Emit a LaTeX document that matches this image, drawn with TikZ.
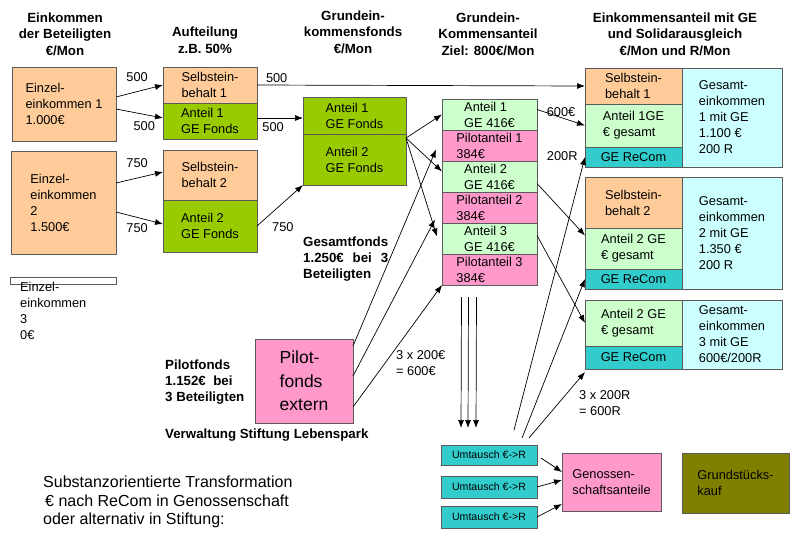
\documentclass[tikz,border=0pt]{standalone}
\usepackage{fontspec}
\setmainfont{Liberation Sans}
\usetikzlibrary{arrows.meta, positioning, calc}
\definecolor{peach}{HTML}{FFCC99}
\definecolor{fondsgreen}{HTML}{99CC00}
\definecolor{palegreen}{HTML}{CCFFCC}
\definecolor{pilotpink}{HTML}{FF99CC}
\definecolor{recomteal}{HTML}{33CCCC}
\definecolor{palecyan}{HTML}{CCFFFF}
\definecolor{landolive}{HTML}{808000}
\definecolor{boxedge}{HTML}{5A5A5A}

\tikzset{
    cell/.style={draw=boxedge, line width=0.7pt, outer sep=0pt, inner xsep=3pt, inner ysep=1pt, align=left, anchor=north west, font=\fontsize{12.8}{16}\selectfont},
    head/.style={align=center, font=\bfseries\fontsize{13.3}{16.5}\selectfont},
    note/.style={align=left, anchor=north west, inner sep=0pt, font=\bfseries\fontsize{13.3}{16}\selectfont},
    lbl/.style={inner sep=1pt, align=left, font=\fontsize{12.8}{16}\selectfont},
    arr/.style={-{Latex[length=8pt,width=6pt]}, line width=0.7pt},
}

\begin{document}
\begin{tikzpicture}[x=1pt, y=-1pt]
    \useasboundingbox (0,0) rectangle (794,533);

    \node[head] (h1) at (65,34) {Einkommen\\der Beteiligten\\€/Mon};
    \node[head] (h2) at (205,40) {Aufteilung\\z.B. 50\%};
    \node[head] (h3) at (353,32) {Grundein-\\kommensfonds\\€/Mon};
    \node[head] (h4) at (488,34) {Grundein-\\Kommensanteil\\Ziel: 800€/Mon};
    \node[head] (h5) at (675,34) {Einkommensanteil mit GE\\und Solidarausgleich\\€/Mon und R/Mon};

    \node[cell, fill=peach, minimum width=104pt, minimum height=74pt] (e1) at (12,67) {Einzel-\\einkommen 1\\1.000€};
    \node[cell, fill=peach, minimum width=105pt, minimum height=103pt] (e2) at (11,151) {Einzel-\\einkommen\\2\\1.500€};
    \node[cell, fill=white, minimum width=106pt, minimum height=7pt, inner sep=0pt] (e3) at (10,277) {};
    \node[lbl, anchor=north west, inner sep=0pt] (e3lab) at (20,282) {Einzel-\\einkommen\\3\\0€};

    \node[cell, fill=peach, minimum width=94pt, minimum height=36pt] (sb1) at (163,67) {Selbstein-\\behalt 1};
    \node[cell, fill=fondsgreen, minimum width=94pt, minimum height=36pt, below=0pt of sb1] (gf1) {Anteil 1\\GE Fonds};
    \node[cell, fill=peach, minimum width=94pt, minimum height=50pt] (sb2) at (163,150) {Selbstein-\\behalt 2};
    \node[cell, fill=fondsgreen, minimum width=94pt, minimum height=52pt, below=0pt of sb2] (gf2) {Anteil 2\\GE Fonds};

    \node[cell, fill=fondsgreen, minimum width=103pt, minimum height=37pt] (fa1) at (303,97) {Anteil 1\\GE Fonds};
    \node[cell, fill=fondsgreen, minimum width=103pt, minimum height=51pt, below=0pt of fa1] (fa2) {Anteil 2\\GE Fonds};

    \node[cell, fill=palegreen, minimum width=95pt, minimum height=31pt] (ga1) at (442,99) {Anteil 1\\GE 416€};
    \node[cell, fill=pilotpink, minimum width=95pt, minimum height=31pt, below=0pt of ga1] (pa1) {Pilotanteil 1\\384€};
    \node[cell, fill=palegreen, minimum width=95pt, minimum height=31pt, below=0pt of pa1] (ga2) {Anteil 2\\GE 416€};
    \node[cell, fill=pilotpink, minimum width=95pt, minimum height=31pt, below=0pt of ga2] (pa2) {Pilotanteil 2\\384€};
    \node[cell, fill=palegreen, minimum width=95pt, minimum height=31pt, below=0pt of pa2] (ga3) {Anteil 3\\GE 416€};
    \node[cell, fill=pilotpink, minimum width=95pt, minimum height=31pt, below=0pt of ga3] (pa3) {Pilotanteil 3\\384€};

    \node[cell, fill=peach, minimum width=97pt, minimum height=36pt] (rs1) at (585,68) {Selbstein-\\behalt 1};
    \node[cell, fill=palegreen, minimum width=97pt, minimum height=43pt, below=0pt of rs1] (rg1) {Anteil 1GE\\€ gesamt};
    \node[cell, fill=recomteal, minimum width=97pt, minimum height=20pt, below=0pt of rg1] (rr1) {GE ReCom};
    \node[cell, fill=palecyan, minimum width=100pt, minimum height=99pt] (tot1) at (682,68) {Gesamt-\\einkommen\\1 mit GE\\1.100 €\\200 R};

    \node[cell, fill=peach, minimum width=97pt, minimum height=51pt] (rs2) at (585,177) {Selbstein-\\behalt 2};
    \node[cell, fill=palegreen, minimum width=97pt, minimum height=41pt, below=0pt of rs2] (rg2) {Anteil 2 GE\\€ gesamt};
    \node[cell, fill=recomteal, minimum width=97pt, minimum height=20pt, below=0pt of rg2] (rr2) {GE ReCom};
    \node[cell, fill=palecyan, minimum width=100pt, minimum height=112pt] (tot2) at (682,177) {Gesamt-\\einkommen\\2 mit GE\\1.350 €\\200 R};

    \node[cell, fill=palegreen, minimum width=97pt, minimum height=46pt] (rg3) at (585,300) {Anteil 2 GE\\€ gesamt};
    \node[cell, fill=recomteal, minimum width=97pt, minimum height=23pt, below=0pt of rg3] (rr3) {GE ReCom};
    \node[cell, fill=palecyan, minimum width=100pt, minimum height=69pt] (tot3) at (682,300) {Gesamt-\\einkommen\\3 mit GE\\600€/200R};

    \node[cell, fill=pilotpink, minimum width=98pt, minimum height=84pt, font=\fontsize{17.5}{23.5}\selectfont] (pilot) at (255,339) {Pilot-\\fonds\\extern};

    \node[cell, fill=recomteal, minimum width=96pt, minimum height=20pt, font=\fontsize{10.6}{12}\selectfont] (ut1) at (441,445) {Umtausch €->R};
    \node[cell, fill=recomteal, minimum width=96pt, minimum height=22pt, font=\fontsize{10.6}{12}\selectfont] (ut2) at (441,476) {Umtausch €->R};
    \node[cell, fill=recomteal, minimum width=96pt, minimum height=22pt, font=\fontsize{10.6}{12}\selectfont] (ut3) at (441,506) {Umtausch €->R};
    \node[cell, fill=pilotpink, minimum width=99pt, minimum height=58pt] (geno) at (562,453) {Genossen-\\schaftsanteile};
    \node[cell, fill=landolive, minimum width=107pt, minimum height=60pt] (grund) at (682,453) {Grundstücks-\\kauf};

    \node[note, text width=85pt] (gesamt) at (303,237) {Gesamtfonds\\1.250€\hfill bei\hfill 3\\Beteiligten};
    \node[note] (pilotlab) at (165,360) {Pilotfonds\\1.152€\ \ bei\\3 Beteiligten};
    \node[note] (verw) at (165,429) {Verwaltung Stiftung Lebenspark};
    \node[lbl, anchor=north west, inner sep=0pt, font=\fontsize{16}{18.5}\selectfont] (subst) at (43,476) {Substanzorientierte Transformation\\\hspace{2pt}€ nach ReCom in Genossenschaft\\oder alternativ in Stiftung:};

    \draw[arr] ([yshift=7pt]e1.east) -- node[lbl, pos=.45, above=9pt] {500} (sb1.west);
    \draw[arr] ([yshift=-5pt]e1.east) -- node[lbl, pos=.6, below=6pt] {500} ([yshift=3pt]gf1.west);
    \draw[arr] ([yshift=19.5pt]e2.east) -- node[lbl, pos=.45, above=9pt] {750} ([yshift=3pt]sb2.west);
    \draw[arr] ([yshift=-9.5pt]e2.east) -- node[lbl, pos=.45, below=5pt] {750} ([yshift=2pt]gf2.west);

    \draw[arr] (sb1.east) -- node[lbl, pos=.06, above=1pt] {500} (rs1.west);
    \draw[arr] ([yshift=3pt]gf1.east) -- node[lbl, pos=.35, below=3pt] {500} ([yshift=-2.5pt]fa1.west);
    \draw[arr] (gf2.east) -- node[lbl, pos=.3, anchor=north west, yshift=-8pt] {750} (fa2.south west);

    \draw[arr] ([yshift=-4pt]fa2.north east) -- (ga1.west);
    \draw[arr] ([yshift=-4pt]fa2.north east) -- ([yshift=5pt]ga2.west);
    \draw[arr] ([yshift=-4pt]fa2.north east) -- ([xshift=-5pt,yshift=2pt]ga3.west);

    \draw[arr] ([yshift=35pt]pilot.east) -- ([xshift=-6pt,yshift=-4pt]pa1.west);
    \draw[arr] ([yshift=5pt]pilot.east) -- ([xshift=-7pt,yshift=-12pt]pa2.west);
    \draw[arr] ([yshift=-26pt]pilot.east) -- node[lbl, pos=.47, anchor=north west] {3 x 200€\\= 600€} (pa3.south west);

    \foreach \dx in {-28,-21,-13}
        \draw[arr] ([xshift=\dx pt,yshift=-12pt]pa3.south) -- ([xshift=\dx pt,yshift=17pt]ut1.north);

    \draw[arr] ([xshift=25pt,yshift=15pt]ut1.north) -- node[lbl, pos=.97, anchor=south east, xshift=-4pt, yshift=3pt] {200R} (rr1.west);
    \draw[arr] ([xshift=33pt,yshift=7pt]ut1.north) -- (rr2.west);
    \draw[arr] ([xshift=40pt,yshift=7pt]ut1.north) -- node[lbl, pos=.8, anchor=north west, xshift=4pt, yshift=-4pt] {3 x 200R\\= 600R} ([yshift=-3pt]rr3.south west);

    \draw[arr] ([yshift=5pt]ga1.east) -- node[lbl, midway, above] {600€} (rg1.west);
    \draw[arr] ([yshift=-7pt]ga2.east) -- ([yshift=13pt]rg2.west);
    \draw[arr] ([yshift=3pt]ga3.east) -- (rg3.west);

    \draw[arr] ([xshift=4pt,yshift=-3pt]ut1.east) -- ([yshift=10pt]geno.west);
    \draw[arr] (ut2.east) -- ([yshift=2pt]geno.west);
    \draw[arr] (ut3.east) -- ([yshift=-22pt]geno.west);
\end{tikzpicture}
\end{document}
